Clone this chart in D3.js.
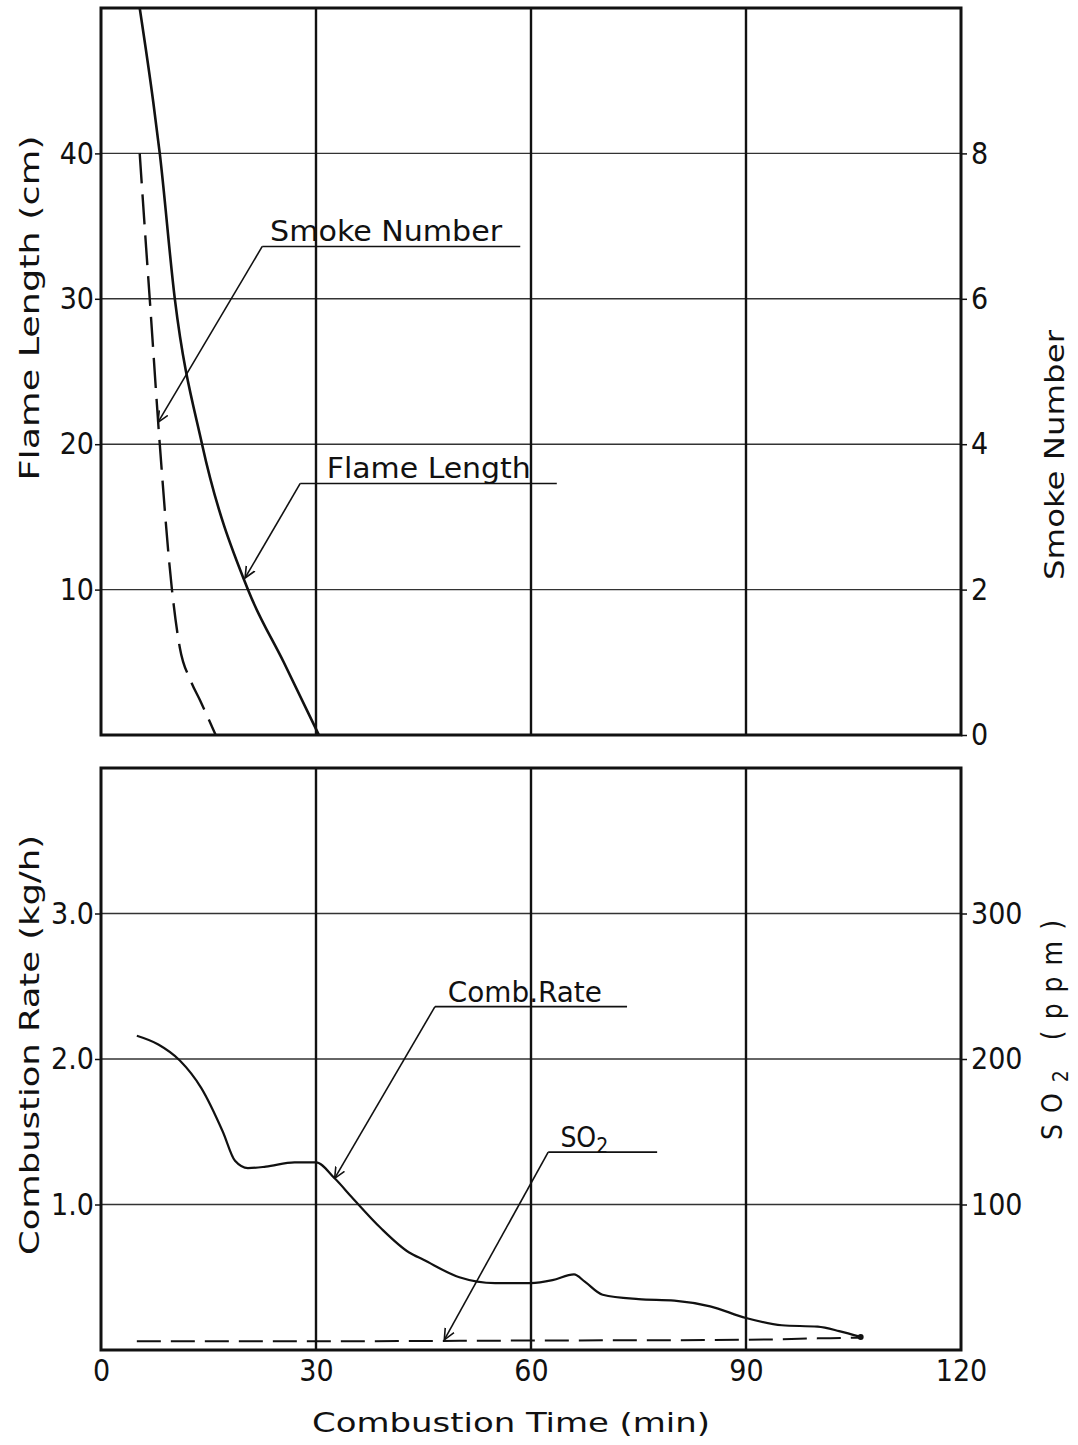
<!DOCTYPE html>
<html>
<head>
<meta charset="utf-8">
<script src="https://cdn.jsdelivr.net/npm/d3@7"></script>
<style>
  body { margin: 0; background: #fff; }
  text { font-family: "DejaVu Sans Condensed", "DejaVu Sans", sans-serif; fill: #111; }
</style>
</head>
<body>
<div id="chart"></div>
<script>
// tick values
const timeTicks = [0, 30, 60, 90, 120];
const flameTicks = [10, 20, 30, 40];
const smokeTicks = [0, 2, 4, 6, 8];
const rateTicks = [1, 2, 3];
const so2Ticks = [100, 200, 300];
const rateTickLabels = ["1.0", "2.0", "3.0"];

// flame length (cm) vs combustion time (min)
const flameTime = [5.4, 7.3, 8.2, 10.3, 14.1, 20.5, 25.5, 30.4];
const flameLength = [50, 43.5, 40, 30, 20, 10, 5, 0];

// smoke number
const smokeTime = [5.4, 6.3, 6.8, 8.2, 9.9, 11, 12.5, 13.8, 16];
const smokeNumber = [8, 6.7, 6, 4, 2, 1.2, 0.75, 0.48, 0];

// combustion rate (kg/h)
const rateTime = [5, 8, 11, 14, 17, 18.7, 20.5, 23, 27, 30, 32.6, 35, 39, 43, 45, 50, 55, 60, 63, 66, 67.5, 70, 75, 80, 85, 90, 95, 100, 103, 106];
const rateValue = [2.16, 2.1, 1.99, 1.8, 1.5, 1.3, 1.25, 1.26, 1.29, 1.29, 1.18, 1.05, 0.84, 0.67, 0.62, 0.5, 0.46, 0.46, 0.48, 0.52, 0.47, 0.38, 0.35, 0.34, 0.3, 0.22, 0.17, 0.16, 0.13, 0.09];

// SO2 (ppm)
const so2Time = [5, 30, 60, 90, 100, 106];
const so2Value = [6, 6, 6.5, 7, 8, 8.5];

const W = 1078, H = 1445;

const svg = d3.select("#chart").append("svg")
  .attr("width", W).attr("height", H);
svg.append("rect").attr("width", W).attr("height", H).attr("fill", "#fff");

svg.append("defs").append("marker")
  .attr("id", "arrow")
  .attr("viewBox", "0 0 12 12")
  .attr("refX", 11).attr("refY", 6)
  .attr("markerWidth", 12).attr("markerHeight", 12)
  .attr("markerUnits", "userSpaceOnUse")
  .attr("orient", "auto")
  .append("path")
  .attr("d", "M0,1 L11,6 L0,11")
  .attr("fill", "none").attr("stroke", "#111").attr("stroke-width", 1.6);

const x = d3.scaleLinear().domain([0, 120]).range([101, 961]);

const yFlame = d3.scaleLinear().domain([0, 50]).range([735, 8]);
const ySmoke = d3.scaleLinear().domain([0, 10]).range([735, 8]);
const yRate = d3.scaleLinear().domain([0, 4]).range([1350, 768]);
const ySO2 = d3.scaleLinear().domain([0, 400]).range([1350, 768]);

function panel(yLeft, leftTicks, leftFmt, yRight, rightTicks, showX) {
  const [y0, y1] = yLeft.range();
  const g = svg.append("g");

  // horizontal grid
  g.append("g").selectAll("line")
    .data(leftTicks)
    .join("line")
    .attr("x1", x(0)).attr("x2", x(120))
    .attr("y1", (d) => yLeft(d)).attr("y2", (d) => yLeft(d))
    .attr("stroke", "#333").attr("stroke-width", 1.4);

  // vertical grid
  g.append("g").selectAll("line")
    .data([30, 60, 90])
    .join("line")
    .attr("x1", (d) => x(d)).attr("x2", (d) => x(d))
    .attr("y1", y0).attr("y2", y1)
    .attr("stroke", "#111").attr("stroke-width", 2.4);

  g.append("rect")
    .attr("x", x(0)).attr("y", y1)
    .attr("width", x(120) - x(0)).attr("height", y0 - y1)
    .attr("fill", "none").attr("stroke", "#111").attr("stroke-width", 3);

  const la = g.append("g")
    .attr("transform", "translate(" + x(0) + ",0)")
    .call(d3.axisLeft(yLeft).tickValues(leftTicks).tickFormat(leftFmt).tickSize(6).tickPadding(1));
  la.select(".domain").remove();
  la.selectAll("line").attr("stroke", "#111").attr("stroke-width", 1.5);
  la.selectAll("text").style("font-size", "30px").style("font-family", "DejaVu Sans Condensed, DejaVu Sans");

  const ra = g.append("g")
    .attr("transform", "translate(" + x(120) + ",0)")
    .call(d3.axisRight(yRight).tickValues(rightTicks).tickSize(6).tickPadding(4));
  ra.select(".domain").remove();
  ra.selectAll("line").attr("stroke", "#111").attr("stroke-width", 1.5);
  ra.selectAll("text").style("font-size", "30px").style("font-family", "DejaVu Sans Condensed, DejaVu Sans");

  if (showX) {
    const xa = g.append("g")
      .attr("transform", "translate(0," + y0 + ")")
      .call(d3.axisBottom(x).tickValues(timeTicks).tickSize(0).tickPadding(10));
    xa.select(".domain").remove();
    xa.selectAll("text").style("font-size", "30px").style("font-family", "DejaVu Sans Condensed, DejaVu Sans");
  }
}

panel(yFlame, flameTicks, d3.format("d"), ySmoke, smokeTicks, false);
panel(yRate, rateTicks, (d, i) => rateTickLabels[i], ySO2, so2Ticks, true);

function series(times, values, yScale, dash, width) {
  const pts = times.map((t, i) => [t, values[i]]);
  const line = d3.line()
    .x((d) => x(d[0]))
    .y((d) => yScale(d[1]))
    .curve(d3.curveMonotoneX);
  svg.append("path")
    .datum(pts)
    .attr("fill", "none")
    .attr("stroke", "#111")
    .attr("stroke-width", width)
    .attr("stroke-dasharray", dash)
    .attr("d", line);
}

series(flameTime, flameLength, yFlame, null, 2.6);
series(smokeTime, smokeNumber, ySmoke, "30,11", 2.4);
series(rateTime, rateValue, yRate, null, 2.2);
series(so2Time, so2Value, ySO2, "24,10", 2);

svg.append("circle")
  .attr("cx", x(rateTime[rateTime.length - 1]))
  .attr("cy", yRate(rateValue[rateValue.length - 1]))
  .attr("r", 3).attr("fill", "#111");

// annotations: label, underline span (data units) and arrow tip on the curve
function note(label, sub, tStart, tEnd, yScale, yVal, textT, tipT, tipScale, tipVal, len) {
  const yy = yScale(yVal);
  svg.append("line")
    .attr("x1", x(tStart)).attr("x2", x(tEnd))
    .attr("y1", yy).attr("y2", yy)
    .attr("stroke", "#111").attr("stroke-width", 1.6);
  svg.append("line")
    .attr("x1", x(tStart)).attr("y1", yy)
    .attr("x2", x(tipT)).attr("y2", tipScale(tipVal))
    .attr("stroke", "#111").attr("stroke-width", 1.6)
    .attr("marker-end", "url(#arrow)");
  const t = svg.append("text")
    .attr("x", x(textT)).attr("y", yy - 5)
    .style("font-size", "28px");
  t.append("tspan").text(label);
  if (sub) {
    t.append("tspan").attr("dy", 6).style("font-size", "21px").text(sub);
  } else if (len) {
    t.attr("textLength", len).attr("lengthAdjust", "spacingAndGlyphs");
  }
}

note("Smoke Number", null, 22.5, 58.5, yFlame, 33.6, 23.6, 7.95, ySmoke, 4.3, 232);
note("Flame Length", null, 27.8, 63.6, yFlame, 17.3, 31.5, 20.1, yFlame, 10.8, 204);
note("Comb.Rate", null, 46.6, 73.4, yRate, 2.36, 48.4, 32.6, yRate, 1.18, 154);
note("SO", "2", 62.4, 77.6, ySO2, 136, 64.1, 47.9, ySO2, 7, null);

// axis titles
svg.append("text")
  .attr("x", 312).attr("y", 1432)
  .attr("textLength", 398).attr("lengthAdjust", "spacingAndGlyphs")
  .style("font-size", "27px")
  .text("Combustion Time  (min)");

function vtitle(cx, cy, len, txt) {
  svg.append("text")
    .attr("transform", "translate(" + cx + "," + cy + ") rotate(-90)")
    .attr("text-anchor", "middle")
    .attr("textLength", len).attr("lengthAdjust", "spacingAndGlyphs")
    .style("font-size", "26px")
    .text(txt);
}

vtitle(39, 308, 345, "Flame Length  (cm)");
vtitle(39, 1045, 420, "Combustion Rate  (kg/h)");
vtitle(1064, 455, 250, "Smoke Number");

const so2Title = svg.append("text")
  .attr("transform", "translate(1062,1030) rotate(-90)")
  .attr("text-anchor", "middle")
  .attr("textLength", 220).attr("lengthAdjust", "spacing")
  .style("font-size", "28px");
so2Title.append("tspan").text("SO");
so2Title.append("tspan").attr("dy", 6).style("font-size", "21px").text("2");
so2Title.append("tspan").attr("dy", -6).text("     (ppm)");
</script>
</body>
</html>
